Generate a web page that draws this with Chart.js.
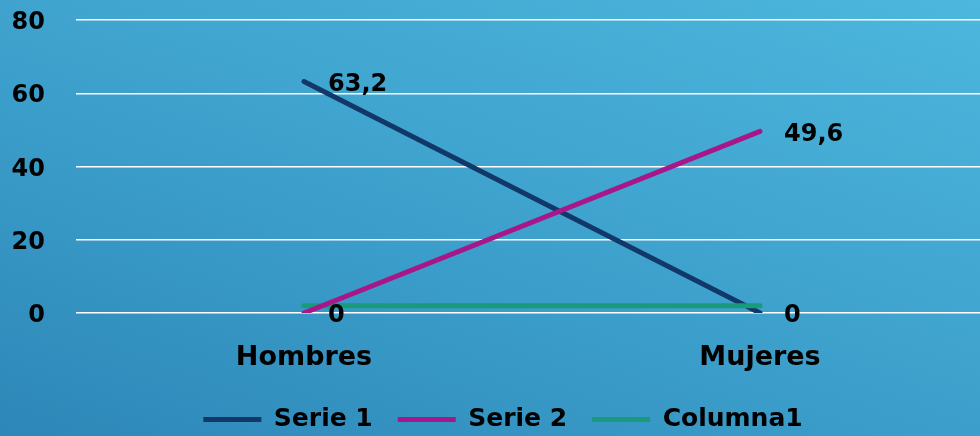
<!DOCTYPE html>
<html>
<head>
<meta charset="utf-8">
<script src="https://cdn.jsdelivr.net/npm/chart.js@4"></script>
<style>
  html, body {
    margin: 0;
    padding: 0;
    width: 980px;
    height: 436px;
    overflow: hidden;
  }
  body {
    background: linear-gradient(200deg, #4db7dd 0%, #3c9fcb 55%, #2d87b8 100%);
  }
  .wrap {
    position: relative;
    width: 992px;
    height: 436px;
  }
</style>
</head>
<body>
<div class="wrap"><canvas id="chart"></canvas></div>
<script>
const categories = ['Hombres', 'Mujeres'];
const serie1 = [63.2, 0];
const serie2 = [0, 49.6];
const columna1 = [2, 2];
const yTicks = [0, 20, 40, 60, 80];

const FONT = 'DejaVu Sans';

// etiquetas de valor a la derecha de cada punto
const valueLabels = {
  id: 'valueLabels',
  afterDatasetsDraw(chart) {
    const ctx = chart.ctx;
    ctx.save();
    ctx.font = 'bold 24px ' + FONT;
    ctx.fillStyle = '#000';
    ctx.textAlign = 'left';
    ctx.textBaseline = 'middle';
    chart.data.datasets.forEach((ds, i) => {
      if (!ds.showLabels) return;
      const meta = chart.getDatasetMeta(i);
      meta.data.forEach((pt, j) => {
        const txt = String(ds.data[j]).replace('.', ',');
        ctx.fillText(txt, pt.x + 24, pt.y + 3);
      });
    });
    ctx.restore();
  }
};

// leyenda: altura fija y un poco corrida a la derecha
const legendTweak = {
  id: 'legendTweak',
  afterInit(chart) {
    const legend = chart.legend;
    if (!legend) return;
    const fit = legend.fit;
    legend.fit = function () {
      fit.call(this);
      this.height = 54;
    };
    const draw = legend.draw;
    legend.draw = function (area) {
      this.left += 9;
      this.right += 9;
      draw.call(this, area);
      this.left -= 9;
      this.right -= 9;
    };
  }
};

new Chart(document.getElementById('chart'), {
  type: 'line',
  data: {
    labels: categories,
    datasets: [
      {
        label: 'Serie 1',
        data: serie1,
        borderColor: '#113868',
        backgroundColor: '#113868',
        borderWidth: 5,
        borderCapStyle: 'round',
        pointRadius: 0,
        showLabels: true,
        order: 2
      },
      {
        label: 'Serie 2',
        data: serie2,
        borderColor: '#a8178a',
        backgroundColor: '#a8178a',
        borderWidth: 5,
        borderCapStyle: 'round',
        pointRadius: 0,
        showLabels: true,
        order: 0
      },
      {
        label: 'Columna1',
        data: columna1,
        borderColor: '#199a7b',
        backgroundColor: '#199a7b',
        borderWidth: 5,
        borderCapStyle: 'round',
        pointRadius: 0,
        showLabels: false,
        order: 1
      }
    ]
  },
  options: {
    responsive: true,
    maintainAspectRatio: false,
    animation: false,
    layout: {
      padding: { left: 0, right: 4, top: 20, bottom: 0 }
    },
    scales: {
      x: {
        offset: true,
        afterFit: s => { s.height = 69; },
        grid: { display: false },
        border: { display: false },
        ticks: {
          color: '#000',
          padding: 21,
          font: { family: FONT, size: 27, weight: 'bold' }
        }
      },
      y: {
        min: 0,
        max: 80,
        afterFit: s => {
          s.width = 76;
          s.paddingTop = 0;
          s.paddingBottom = 0;
        },
        afterBuildTicks: s => { s.ticks = yTicks.map(v => ({ value: v })); },
        grid: { color: '#ffffff', lineWidth: 1.5, drawTicks: false },
        border: { display: false },
        ticks: {
          color: '#000',
          padding: 31,
          labelOffset: 3,
          font: { family: FONT, size: 24, weight: 'bold' }
        }
      }
    },
    plugins: {
      tooltip: { enabled: false },
      legend: {
        position: 'bottom',
        labels: {
          sort: (a, b) => a.datasetIndex - b.datasetIndex,
          color: '#000',
          usePointStyle: true,
          pointStyle: 'line',
          pointStyleWidth: 58,
          padding: 25,
          font: { family: FONT, size: 25, weight: 'bold' }
        }
      }
    }
  },
  plugins: [valueLabels, legendTweak]
});
</script>
</body>
</html>
